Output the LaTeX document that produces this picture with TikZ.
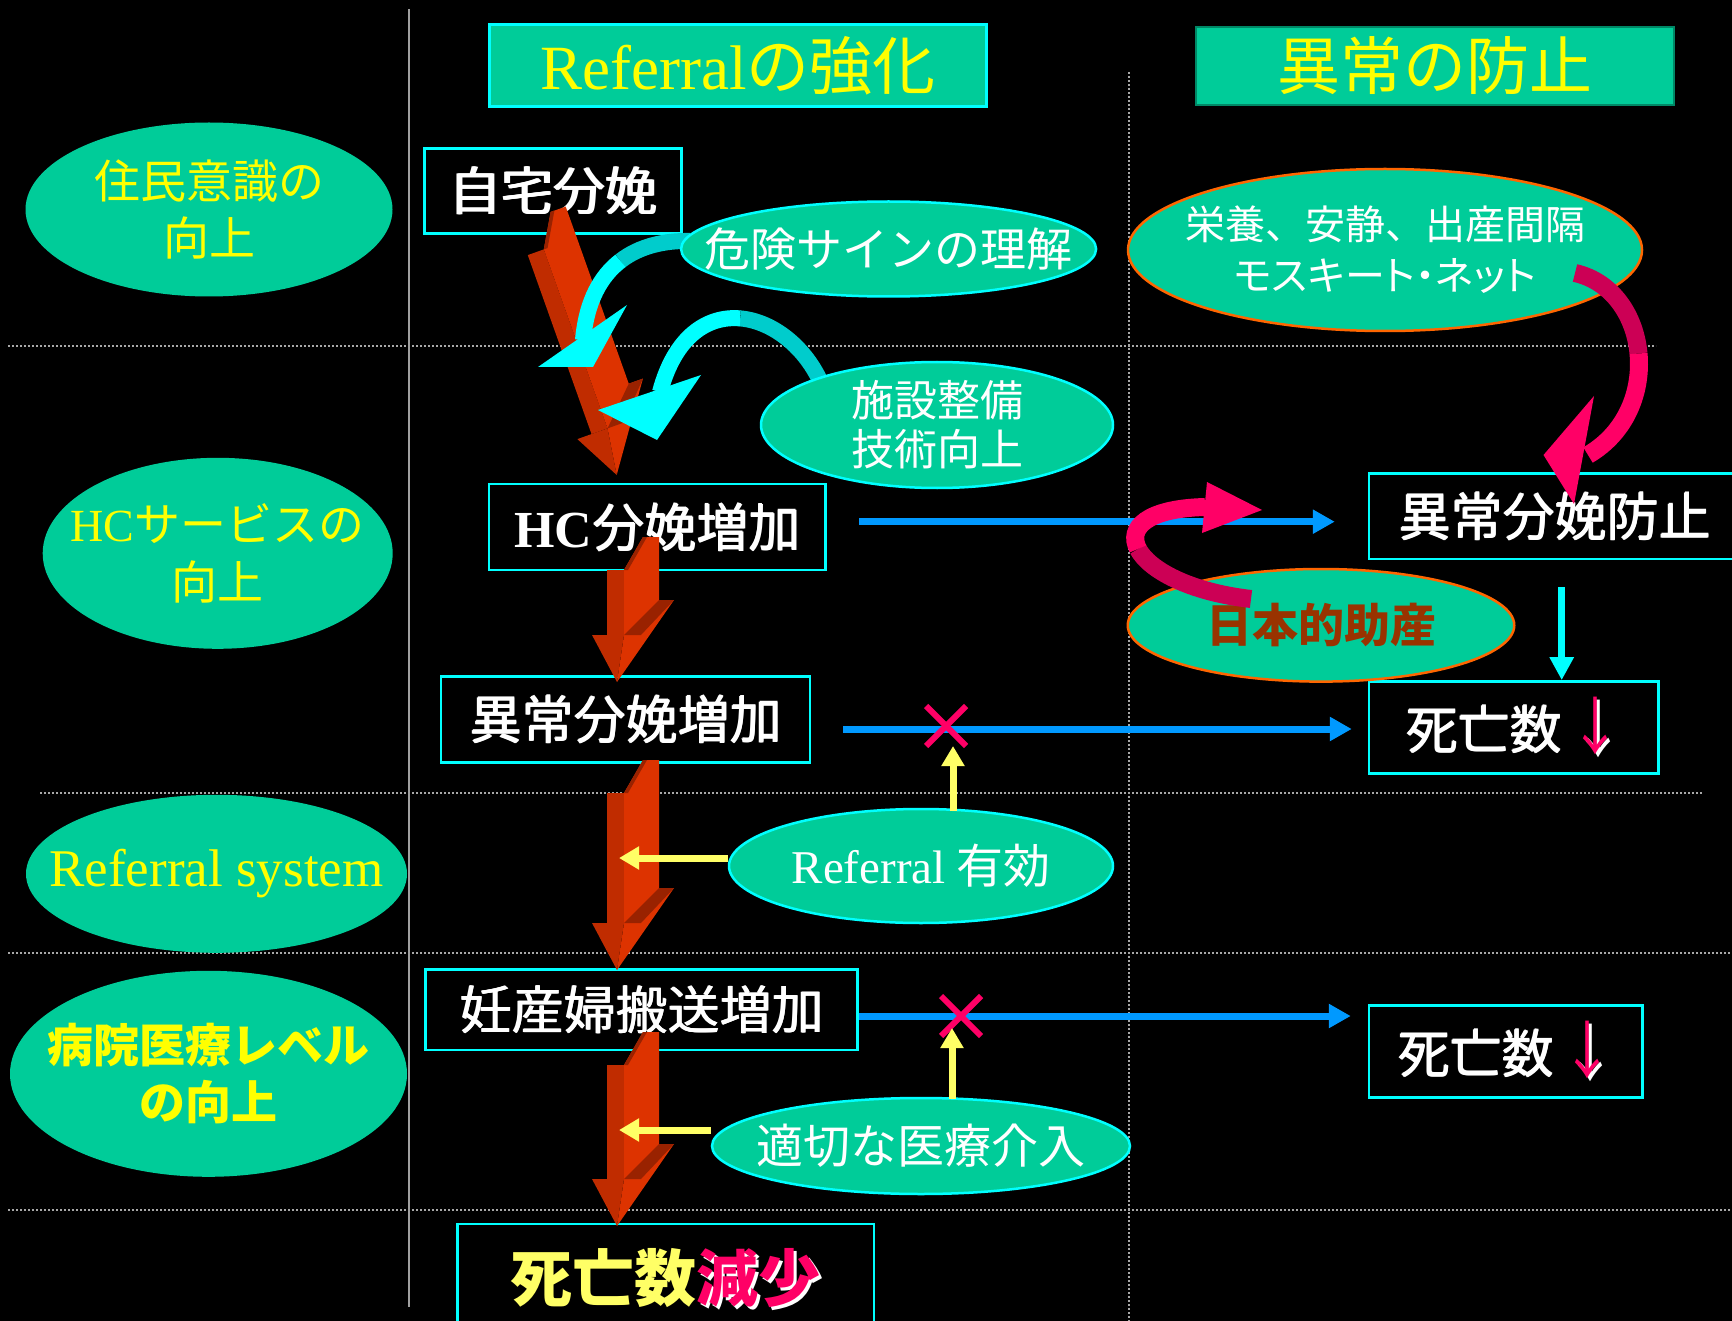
\documentclass[tikz,border=0pt]{standalone}
\usepackage{fontspec}
\setmainfont{Liberation Serif}
\newfontfamily\jp{Noto Sans CJK JP}
\newfontfamily\jpp[RawFeature=+palt]{Noto Sans CJK JP}
\newfontfamily\tm{Liberation Serif}
\usetikzlibrary{arrows.meta,shapes.geometric,shapes.misc}
\definecolor{ovalfill}{HTML}{00CC99}
\definecolor{cyanl}{HTML}{00FFFF}
\definecolor{cyandk}{HTML}{00CCCC}
\definecolor{blueline}{HTML}{0099FF}
\definecolor{yel}{HTML}{FFFF00}
\definecolor{paleyel}{HTML}{FFFF66}
\definecolor{mag}{HTML}{FF0066}
\definecolor{magdark}{HTML}{CC0055}
\definecolor{brn}{HTML}{993300}
\definecolor{orng}{HTML}{FF6600}
\definecolor{redfront}{HTML}{DD3300}
\definecolor{redmid}{HTML}{C02C00}
\definecolor{reddark}{HTML}{992200}
\definecolor{dotgray}{HTML}{A8A8A8}
\definecolor{vgray}{HTML}{A0A0A0}
\definecolor{hdrborder}{HTML}{008866}
\newcommand{\fs}[2]{\fontsize{#1}{#2}\selectfont}
\newcommand{\shd}[2]{\rlap{\kern3pt\raisebox{-3pt}{\textcolor{white}{#2}}}\textcolor{#1}{#2}}
\newcommand{\pbold}[1]{\rlap{\kern1.3pt#1}\rlap{\kern0.65pt\raisebox{0.7pt}{#1}}#1}
\newcommand{\darr}{\hspace{8pt}{\jp\shd{mag}{\scalebox{1}[1.2]{↓}}}}
\tikzset{
  box/.style={draw=cyanl, line width=2.5pt, fill=black, text=white, inner sep=0pt, font=\jp\fs{52}{60}},
  ovl/.style={ellipse, fill=ovalfill, draw=cyanl, line width=2.5pt, inner sep=0pt},
  lovl/.style={ellipse, fill=ovalfill, inner sep=0pt},
  rovl/.style={ellipse, fill=ovalfill, draw=orng, line width=2.5pt, inner sep=0pt},
  hdr/.style={fill=ovalfill, text=yel, inner sep=0pt, font=\fs{63}{70}},
  ltxt/.style={text=yel, align=center, inner sep=0pt},
  wtxt/.style={text=white, align=center, inner sep=0pt},
  dotl/.style={draw=dotgray, line width=1.6pt, dash pattern=on 1.6pt off 2.4pt},
  bluearr/.style={draw=blueline, line width=7pt, -{Triangle[length=22pt,width=23pt]}},
  yelarr/.style={draw=paleyel, line width=7pt, -{Triangle[length=20pt,width=22pt]}},
  cyanarr/.style={draw=cyanl, line width=7pt, -{Triangle[length=23pt,width=23pt]}},
  xmark/.style={cross out, draw=mag, line width=6pt, minimum size=34pt, inner sep=0pt},
  pics/redarrow/.style={code={
    \fill[redmid] (-10,-#1) -- (7,-#1) -- (7,-47) -- (-10,-47) -- cycle;
    \fill[redfront] (7,-#1) -- (26,{-#1-33}) -- (42,{-#1-33}) -- (42,-82) -- (57,-82) -- (0,0) -- (7,-47) -- cycle;
    \fill[redmid] (-25,-47) -- (7,-47) -- (0,0) -- cycle;
    \fill[reddark] (42,-82) -- (57,-82) -- (24,-47) -- (7,-47) -- cycle;
    \fill[reddark] (7,-#1) -- (26,{-#1-33}) -- (30,{-#1-33}) -- (11,-#1) -- cycle;
  }}
}
\begin{document}
\begin{tikzpicture}[x=1pt,y=-1pt]
\useasboundingbox (0,0) rectangle (1732,1321);
\fill[black] (0,0) rectangle (1732,1321);
\clip (0,0) rectangle (1732,1321);
% grid lines
\draw[dotl] (8,346) -- (1656,346);
\draw[dotl] (40,793) -- (1703,793);
\draw[dotl] (8,953) -- (1732,953);
\draw[dotl] (8,1210) -- (1732,1210);
\draw[dotl] (1129,72) -- (1129,1321);
\draw[draw=vgray, line width=2pt] (409,9) -- (409,1307);
% headers
\node[hdr, draw=cyanl, line width=3pt, minimum width=497pt, minimum height=82pt] (H1) at (738,66) {Referral{\jp の強化}};
\node[hdr, draw=hdrborder, line width=2pt, minimum width=478pt, minimum height=78pt] (H2) at (1435,66) {\jp 異常の防止};
% left ovals
\node[lovl, minimum width=367pt, minimum height=174pt, label={[ltxt, font=\jp\fs{46}{57}]center:{住民意識の\\向上}}] (L1) at (209,209.5) {};
\node[lovl, minimum width=350pt, minimum height=191pt, label={[ltxt, font=\jp\fs{46}{58}]center:{{\tm HC}サービスの\\向上}}] (L2) at (217.7,553.3) {};
\node[lovl, minimum width=381pt, minimum height=158pt, label={[ltxt, font=\tm\fs{53}{60}]center:{Referral system}}] (L3) at (216.5,873.8) {};
\node[lovl, minimum width=397pt, minimum height=206pt, label={[ltxt, font=\jp\bfseries\fs{46}{57}]center:{病院医療レベル\\の向上}}] (L4) at (208.5,1073.8) {};
% boxes
\node[box, minimum width=256.75pt, minimum height=85pt] (B1) at (552.9,190.8) {\pbold{自宅分娩}};
\node[box, minimum width=336.4pt, minimum height=86pt] (B2) at (657.2,527) {{\tm\bfseries HC}\pbold{分娩増加}};
\node[box, minimum width=368.8pt, minimum height=85.6pt] (B3) at (625.4,719.5) {\pbold{異常分娩増加}};
\node[box, minimum width=431.8pt, minimum height=80.7pt] (B4) at (641.4,1009.7) {\pbold{妊産婦搬送増加}};
\node[box, minimum width=416.5pt, minimum height=112pt, font=\jp\bfseries\fs{62}{70}] (B5) at (665.65,1280) {{\color{paleyel}死亡数}\shd{mag}{減少}};
\node[box, minimum width=371pt, minimum height=85.3pt] (B6) at (1554.5,516.2) {\pbold{異常分娩防止}};
\node[box, minimum width=289.3pt, minimum height=92.2pt] (B7) at (1513.65,727.5) {\pbold{死亡数}\darr};
\node[box, minimum width=273.3pt, minimum height=91.8pt] (B8) at (1505.65,1051.6) {\pbold{死亡数}\darr};
% red 3D arrows
\pic[rotate=19.6] at (616.7,475) {redarrow=237};
\pic at (617,682) {redarrow=112};
\pic at (617,970) {redarrow=177};
\pic at (617,1226) {redarrow=161};
% cyan curved arrows
\draw[line width=16pt, draw=cyandk] (690,241) .. controls (665,240.5) and (640,245.75) .. (620.4,260.9);
\draw[line width=16pt, draw=cyanl] (620.4,260.9) .. controls (600.75,276) and (586.5,301) .. (583,340);
\fill[cyanl] (538,367) -- (627,305) -- (593,367) -- cycle;
\draw[line width=16pt, draw=cyandk] (822,385) .. controls (806,347.5) and (773,321.25) .. (740.25,318.4);
\draw[line width=16pt, draw=cyanl] (740.25,318.4) .. controls (707.5,315.5) and (675,336) .. (660,392);
\fill[cyanl] (598,410) -- (701,375) -- (657,440) -- cycle;
% middle ovals
\node[ovl, minimum width=415pt, minimum height=95pt, label={[wtxt, font=\jp\fs{46}{52}]center:{危険サインの理解}}] (E1) at (888.6,249) {};
\node[ovl, minimum width=352pt, minimum height=126pt, label={[wtxt, font=\jp\fs{43}{49}]center:{施設整備\\技術向上}}] (E2) at (937,425) {};
\node[ovl, minimum width=384pt, minimum height=114pt, label={[wtxt, font=\jp\fs{47}{52}]center:{{\tm Referral} 有効}}] (E3) at (921,866) {};
\node[ovl, minimum width=418pt, minimum height=96pt, label={[wtxt, font=\jp\fs{47}{52}]center:{適切な医療介入}}] (E4) at (921,1146) {};
% right ovals
\node[rovl, minimum width=514pt, minimum height=162pt, label={[wtxt, font=\jp\fs{40}{51}]center:{栄養、安静、出産間隔\\{\jpp モスキート・ネット}}}] (E5) at (1385,250) {};
\node[rovl, minimum width=386.5pt, minimum height=112.6pt, label={[text=brn, inner sep=0pt, font=\jp\bfseries\fs{46}{52}]center:{日本的助産}}] (E6) at (1321,625.3) {};
% blue arrows
\coordinate (b1s) at ([xshift=32.4pt,yshift=5.3pt]B2.east);
\draw[bluearr, shorten >=33pt] (b1s) -- (b1s -| B6.west);
\coordinate (b2s) at ([xshift=32pt,yshift=-9.5pt]B3.east);
\draw[bluearr, shorten >=16pt] (b2s) -- (b2s -| B7.west);
\coordinate (b3s) at ([yshift=-6.3pt]B4.east);
\draw[bluearr, shorten >=17pt] (b3s) -- (b3s -| B8.west);
% magenta curved arrows
\draw[line width=18pt, draw=magdark] (1575,273) .. controls (1612.5,281.5) and (1635,315.75) .. (1638.5,353.5);
\draw[line width=18pt, draw=mag] (1638.5,353.5) .. controls (1642,391.25) and (1626.5,432.5) .. (1588,455);
\fill[mag] (1594,396) -- (1543.5,455) -- (1574,504) -- cycle;
\draw[line width=18pt, draw=magdark] (1251,599) .. controls (1189.5,592) and (1148.75,569.75) .. (1138,548.9);
\draw[line width=18pt, draw=mag] (1138,548.9) .. controls (1127.25,528) and (1146.5,508.5) .. (1205,507);
\fill[mag] (1207,482) -- (1262,510) -- (1202,533) -- cycle;
% crosses
\node[xmark] (X1) at (946,726) {};
\node[xmark] (X2) at (961,1016) {};
% yellow arrows
\coordinate (ya) at (953,811);
\draw[yelarr] (ya) -- (ya |- X1.south);
\coordinate (yb) at (619,858);
\draw[yelarr] ([yshift=8pt]E3.west) -- (yb);
\coordinate (yc) at (952,1099);
\draw[yelarr, shorten >=12pt] (yc) -- (yc |- X2.center);
\coordinate (yd) at (619,1130);
\draw[yelarr] ([yshift=16pt]E4.west) -- (yd);
% cyan straight arrow
\coordinate (cs) at (1561.7,587);
\draw[cyanarr] (cs) -- (cs |- B7.north);
\end{tikzpicture}
\end{document}
